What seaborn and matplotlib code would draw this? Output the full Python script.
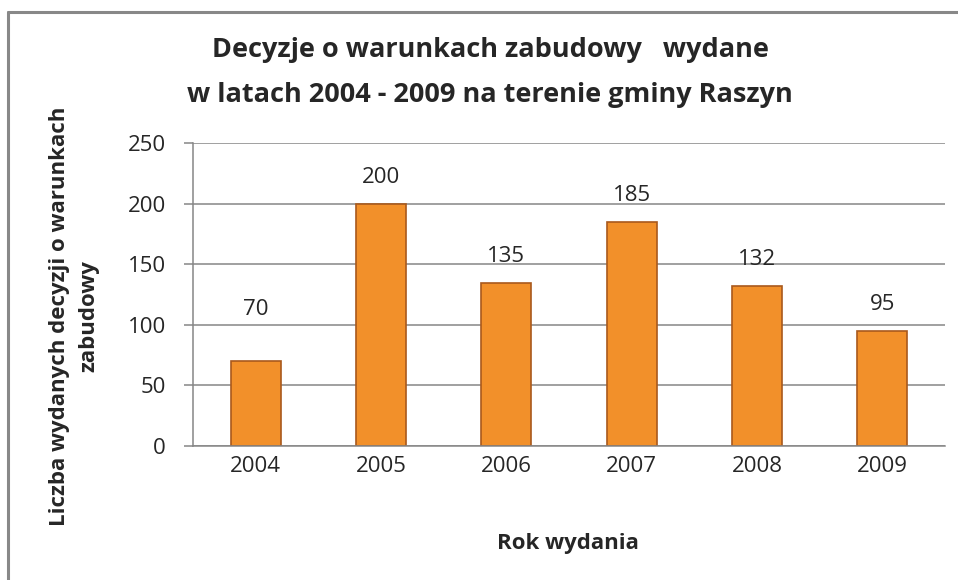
import pandas as pd
import matplotlib.pyplot as plt
import seaborn as sns
from matplotlib.lines import Line2D

# data
years = ["2004", "2005", "2006", "2007", "2008", "2009"]
decisions = [70, 200, 135, 185, 132, 95]

df = pd.DataFrame({"rok": years, "liczba": decisions})

sns.set_style("white")
plt.rcParams["font.family"] = ["Open Sans", "DejaVu Sans"]

fig = plt.figure(figsize=(9.58, 5.8), dpi=100)
ax = fig.add_axes([0.2015, 0.231, 0.785, 0.522])

sns.barplot(data=df, x="rok", y="liczba", ax=ax, width=0.4,
            color="#F2902A", saturation=1, edgecolor="#A9591C", linewidth=1.2)

ax.set_ylim(0, 250)
ax.set_xlim(-0.5, 5.5)
ax.set_yticks(range(0, 251, 50))
ax.yaxis.grid(True, color="#868686", linewidth=1.1)
ax.set_axisbelow(True)
for s in ["top", "right"]:
    ax.spines[s].set_visible(False)
for s in ["left", "bottom"]:
    ax.spines[s].set_color("#868686")
    ax.spines[s].set_linewidth(1.1)
ax.tick_params(axis="y", left=True, length=6.5, color="#868686", width=1.1,
               labelsize=16, pad=13)
ax.tick_params(axis="x", bottom=False, labelsize=16, pad=4)
ax.set_xlabel("")
ax.set_ylabel("")

# value labels (2004 label sits higher in the original)
for i, v in enumerate(decisions):
    off = 37 if i == 0 else 19
    ax.annotate(str(v), (i, v), xytext=(0, off), textcoords="offset points",
                ha="center", va="center", fontsize=16)

fig.text(490 / 958, 1 - 50 / 580, "Decyzje o warunkach zabudowy   wydane",
         ha="center", va="center", fontsize=19.5, fontweight="bold")
fig.text(490 / 958, 1 - 95 / 580, "w latach 2004 - 2009 na terenie gminy Raszyn",
         ha="center", va="center", fontsize=19.5, fontweight="bold")
fig.text(568 / 958, 1 - 543 / 580, "Rok wydania",
         ha="center", va="center", fontsize=16, fontweight="bold")
fig.text(74 / 958, 1 - 316 / 580, "Liczba wydanych decyzji o warunkach\nzabudowy",
         ha="center", va="center", rotation=90, fontsize=16, fontweight="bold",
         linespacing=1.55)

# outer frame (only top and left edges are visible)
fig.add_artist(Line2D([8 / 958, 8 / 958], [0, 1 - 12 / 580],
                      transform=fig.transFigure, color="#888888", linewidth=2.2))
fig.add_artist(Line2D([8 / 958, 1], [1 - 12 / 580, 1 - 12 / 580],
                      transform=fig.transFigure, color="#888888", linewidth=2.2))

fig.savefig("out.png", dpi=100)
